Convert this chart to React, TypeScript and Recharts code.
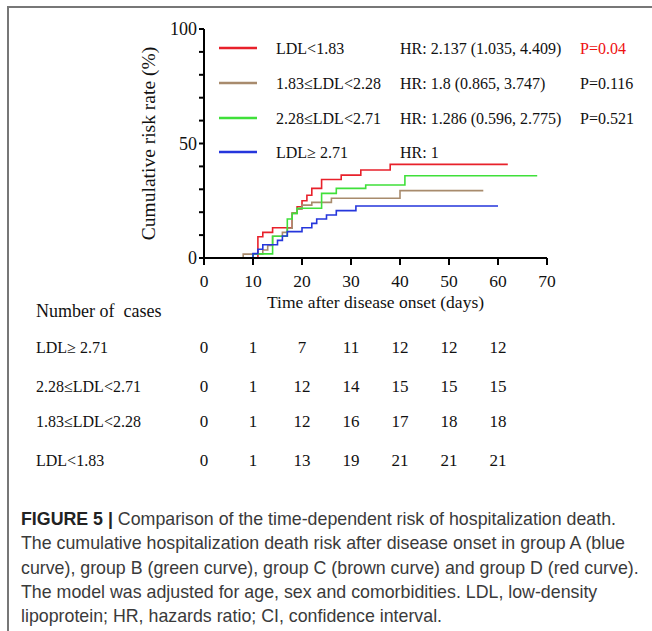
import React from 'react';
import { LineChart, Line, XAxis, YAxis } from 'recharts';

// axis ticks
const timeTicks = [0, 10, 20, 30, 40, 50, 60, 70];
const riskTicks = [0, 10, 20, 30, 40, 50, 60, 70, 80, 90, 100];

// groups, legend order
const groupNames = ['LDL<1.83', '1.83≤LDL<2.28', '2.28≤LDL<2.71', 'LDL≥ 2.71'];
const groupColors = ['#e8212b', '#a88b6d', '#3fe03a', '#2536dc'];
const hrLabels = ['HR: 2.137 (1.035, 4.409)', 'HR: 1.8 (0.865, 3.747)', 'HR: 1.286 (0.596, 2.775)', 'HR: 1'];
const pLabels = ['P=0.04', 'P=0.116', 'P=0.521', ''];
const pColors = ['#ee1111', '#111', '#111', '#111'];

// cumulative risk curves (days, %)
const redDays = [0, 11, 12, 14, 18, 19, 20, 21, 22, 24, 28, 32, 38, 62];
const redRisk = [0, 9.3, 11.2, 13.2, 19.6, 22.4, 25, 27.4, 30.4, 34.3, 36.2, 38.4, 40.9, 40.9];
const brownDays = [0, 8, 12, 13, 14, 16, 17, 18, 19, 20, 22, 26, 40, 57];
const brownRisk = [0, 1.7, 3.5, 5.5, 9.5, 11.2, 13, 19.5, 21.3, 23.1, 24.3, 26.1, 29.4, 29.4];
const greenDays = [0, 10, 14, 17, 18, 19, 24, 27, 33, 41, 68];
const greenRisk = [0, 1.8, 9.5, 17, 19.5, 21.7, 28.2, 30.4, 31.9, 35.9, 35.9];
const blueDays = [0, 10, 11, 12, 15, 16, 17, 20, 22, 23, 25, 27, 31, 60];
const blueRisk = [0, 1.9, 3.8, 5.8, 7.7, 9.6, 11.5, 13.2, 15.1, 17, 18.8, 20.7, 22.7, 22.7];

// number of cases table
const caseDays = [0, 10, 20, 30, 40, 50, 60];
const tableNames = ['LDL≥ 2.71', '2.28≤LDL<2.71', '1.83≤LDL<2.28', 'LDL<1.83'];
const casesBlue = [0, 1, 7, 11, 12, 12, 12];
const casesGreen = [0, 1, 12, 14, 15, 15, 15];
const casesBrown = [0, 1, 12, 16, 17, 18, 18];
const casesRed = [0, 1, 13, 19, 21, 21, 21];

const captionLines = [
  'Comparison of the time-dependent risk of hospitalization death.',
  'The cumulative hospitalization death risk after disease onset in group A (blue',
  'curve), group B (green curve), group C (brown curve) and group D (red curve).',
  'The model was adjusted for age, sex and comorbidities. LDL, low-density',
  'lipoprotein; HR, hazards ratio; CI, confidence interval.',
];

const toPoints = (days: number[], risk: number[]) => days.map((t, i) => ({ t, risk: risk[i] }));
const series = [
  toPoints(redDays, redRisk),
  toPoints(brownDays, brownRisk),
  toPoints(greenDays, greenRisk),
  toPoints(blueDays, blueRisk),
];

const serif = 'Liberation Serif, Times New Roman, serif';
const sans = 'Liberation Sans, Arial, sans-serif';

// plot box in page pixels
const plotLeft = 204;
const plotRight = 547;
const dayX = (t: number) => plotLeft + (t / 70) * (plotRight - plotLeft);

const legendY = [48, 83, 118, 152];
const tableY = [347, 386, 421, 460];
const tableCases = [casesBlue, casesGreen, casesBrown, casesRed];

export default function App() {
  return (
    <div style={{ position: 'absolute', left: 0, top: 0, width: 652, height: 631, background: '#fff', overflow: 'hidden' }}>
      <div
        style={{
          position: 'absolute',
          left: 7,
          top: 6,
          width: 700,
          height: 700,
          borderLeft: '2px solid #777',
          borderTop: '2px solid #777',
        }}
      />
      <div style={{ position: 'absolute', left: 0, top: 0 }}>
        <LineChart width={652} height={312} margin={{ top: 29, right: 105, left: 144, bottom: 4 }}>
          <XAxis
            type="number"
            dataKey="t"
            domain={[0, 70]}
            ticks={timeTicks}
            interval={0}
            height={50}
            tickSize={7}
            tickMargin={10}
            axisLine={{ stroke: '#000', strokeWidth: 2 }}
            tickLine={{ stroke: '#000', strokeWidth: 2 }}
            tick={{ fill: '#111', fontSize: 17.5, fontFamily: serif }}
            label={{
              value: 'Time after disease onset (days)',
              position: 'insideBottom',
              offset: 0,
              style: { fill: '#111', fontSize: 17.5, fontFamily: serif },
            }}
          />
          <YAxis
            type="number"
            dataKey="risk"
            domain={[0, 100]}
            ticks={riskTicks}
            interval={0}
            width={60}
            tickSize={5}
            tickMargin={2}
            tickFormatter={(v: number) => (v % 50 === 0 ? String(v) : '')}
            axisLine={{ stroke: '#000', strokeWidth: 2 }}
            tickLine={{ stroke: '#000', strokeWidth: 2 }}
            tick={{ fill: '#111', fontSize: 18, fontFamily: serif }}
            label={{
              value: 'Cumulative risk rate (%)',
              angle: -90,
              position: 'insideLeft',
              offset: 4,
              style: { textAnchor: 'middle', fill: '#111', fontSize: 19.5, fontFamily: serif },
            }}
          />
          {series.map((pts, i) => (
            <Line
              key={groupNames[i]}
              data={pts}
              dataKey="risk"
              type="stepAfter"
              stroke={groupColors[i]}
              strokeWidth={1.6}
              dot={false}
              activeDot={false}
              isAnimationActive={false}
            />
          ))}
        </LineChart>
      </div>

      <svg width={652} height={480} style={{ position: 'absolute', left: 0, top: 0, pointerEvents: 'none' }}>
        {groupNames.map((name, i) => (
          <g key={name} fontFamily={serif} fontSize={16} fill="#111">
            <line x1={219} x2={257} y1={legendY[i]} y2={legendY[i]} stroke={groupColors[i]} strokeWidth={2.5} />
            <text x={276} y={legendY[i]} dominantBaseline="central">{name}</text>
            <text x={400} y={legendY[i]} dominantBaseline="central">{hrLabels[i]}</text>
            {pLabels[i] && (
              <text x={580} y={legendY[i]} dominantBaseline="central" fill={pColors[i]}>{pLabels[i]}</text>
            )}
          </g>
        ))}

        <text x={36} y={311} dominantBaseline="central" fontFamily={serif} fontSize={18} fill="#111" style={{ whiteSpace: 'pre' }}>
          {'Number of  cases'}
        </text>
        {tableNames.map((name, r) => (
          <g key={name} fontFamily={serif} fill="#111">
            <text x={36} y={tableY[r]} dominantBaseline="central" fontSize={16}>{name}</text>
            {tableCases[r].map((n, c) => (
              <text key={c} x={dayX(caseDays[c])} y={tableY[r]} dominantBaseline="central" textAnchor="middle" fontSize={17}>
                {n}
              </text>
            ))}
          </g>
        ))}
      </svg>

      <div
        style={{
          position: 'absolute',
          left: 21,
          top: 507,
          width: 640,
          fontFamily: sans,
          fontSize: 17.8,
          lineHeight: '24.3px',
          color: '#3a3a3a',
          whiteSpace: 'nowrap',
        }}
      >
        {captionLines.map((line, i) => (
          <div key={i}>
            {i === 0 && <b style={{ color: '#222' }}>FIGURE 5 | </b>}
            {line}
          </div>
        ))}
      </div>
    </div>
  );
}
